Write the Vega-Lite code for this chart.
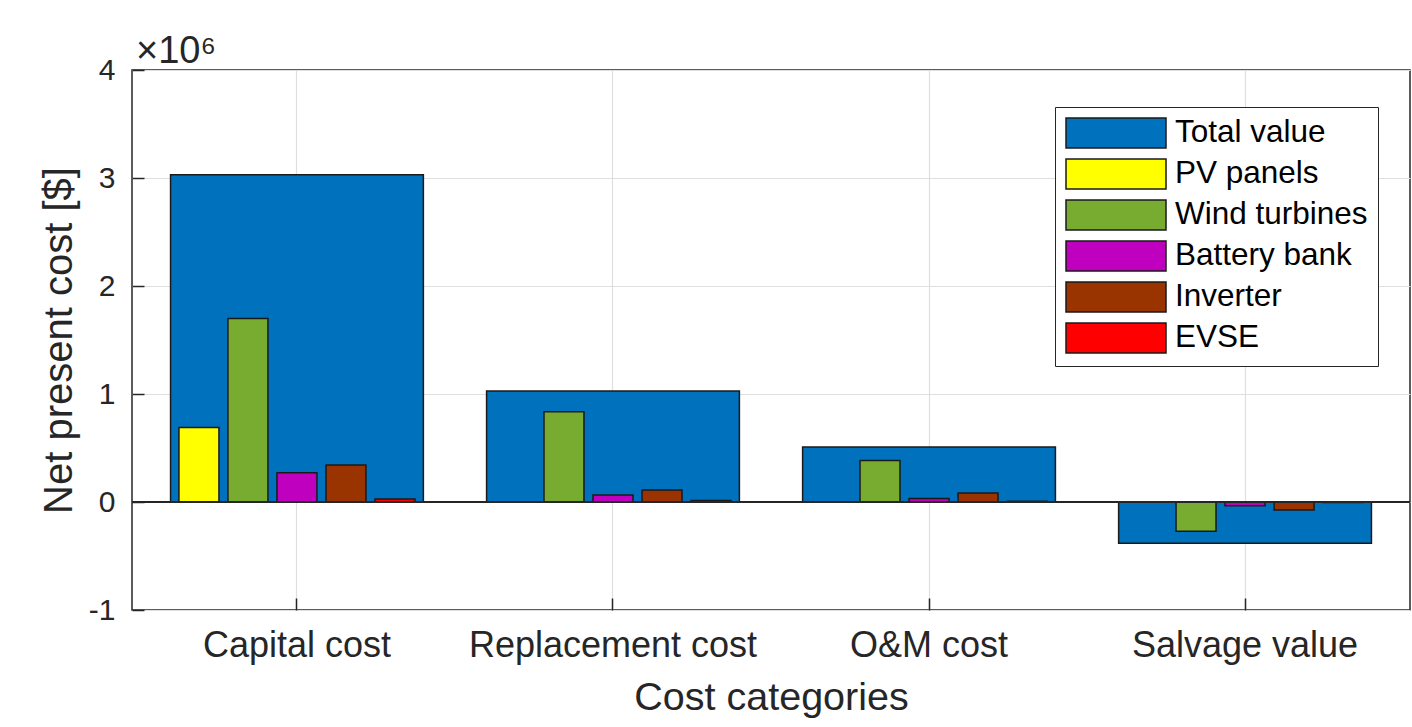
{
  "$schema": "https://vega.github.io/schema/vega-lite/v6.json",
  "autosize": "none",
  "width": 1278,
  "height": 540,
  "padding": {"left": 132, "top": 70, "right": 2, "bottom": 117},
  "background": "white",
  "title": {
    "text": "×10⁶",
    "anchor": "start",
    "frame": "group",
    "fontSize": 38,
    "fontWeight": "normal",
    "color": "#262626",
    "baseline": "alphabetic",
    "offset": 4,
    "dx": 4,
    "dy": 50
  },
  "data": {
    "values": [
      {"category": "Capital cost", "component": "Total value", "npc": 3.03},
      {"category": "Capital cost", "component": "PV panels", "npc": 0.69},
      {"category": "Capital cost", "component": "Wind turbines", "npc": 1.70},
      {"category": "Capital cost", "component": "Battery bank", "npc": 0.27},
      {"category": "Capital cost", "component": "Inverter", "npc": 0.343},
      {"category": "Capital cost", "component": "EVSE", "npc": 0.027},
      {"category": "Replacement cost", "component": "Total value", "npc": 1.027},
      {"category": "Replacement cost", "component": "PV panels", "npc": 0},
      {"category": "Replacement cost", "component": "Wind turbines", "npc": 0.836},
      {"category": "Replacement cost", "component": "Battery bank", "npc": 0.065},
      {"category": "Replacement cost", "component": "Inverter", "npc": 0.111},
      {"category": "Replacement cost", "component": "EVSE", "npc": 0.015},
      {"category": "O&M cost", "component": "Total value", "npc": 0.509},
      {"category": "O&M cost", "component": "PV panels", "npc": 0},
      {"category": "O&M cost", "component": "Wind turbines", "npc": 0.385},
      {"category": "O&M cost", "component": "Battery bank", "npc": 0.033},
      {"category": "O&M cost", "component": "Inverter", "npc": 0.083},
      {"category": "O&M cost", "component": "EVSE", "npc": 0.008},
      {"category": "Salvage value", "component": "Total value", "npc": -0.383},
      {"category": "Salvage value", "component": "PV panels", "npc": 0},
      {"category": "Salvage value", "component": "Wind turbines", "npc": -0.27},
      {"category": "Salvage value", "component": "Battery bank", "npc": -0.034},
      {"category": "Salvage value", "component": "Inverter", "npc": -0.074},
      {"category": "Salvage value", "component": "EVSE", "npc": -0.005}
    ]
  },
  "config": {
    "font": "Liberation Sans",
    "view": {"stroke": "#262626", "strokeWidth": 1.5},
    "axis": {
      "domain": false,
      "grid": true,
      "gridColor": "#DFDFDF",
      "gridWidth": 1.2,
      "tickColor": "#262626",
      "tickWidth": 1.5,
      "tickSize": -12,
      "labelLimit": 0,
      "labelColor": "#262626",
      "titleColor": "#262626",
      "titleFontWeight": "normal"
    }
  },
  "encoding": {
    "x": {
      "field": "category",
      "type": "nominal",
      "sort": ["Capital cost", "Replacement cost", "O&M cost", "Salvage value"],
      "scale": {"paddingInner": 0, "paddingOuter": 0.022},
      "axis": {
        "title": "Cost categories",
        "titleFontSize": 39.5,
        "titlePadding": 15,
        "labelFontSize": 36,
        "labelAngle": 0,
        "labelPadding": 30,
        "bandPosition": 0.5
      }
    },
    "y": {
      "field": "npc",
      "type": "quantitative",
      "scale": {"domain": [-1, 4], "nice": false},
      "axis": {
        "title": "Net present cost [$]",
        "titleFontSize": 40,
        "titlePadding": 9,
        "labelFontSize": 30,
        "labelPadding": 29,
        "values": [-1, 0, 1, 2, 3, 4],
        "labelExpr": "datum.value < 0 ? '-' + (-datum.value) : '' + datum.value"
      }
    },
    "color": {
      "field": "component",
      "type": "nominal",
      "scale": {
        "domain": ["Total value", "PV panels", "Wind turbines", "Battery bank", "Inverter", "EVSE"],
        "range": ["#0072BD", "#FFFF00", "#77AC30", "#BF00BF", "#993300", "#FF0000"]
      },
      "legend": {
        "title": null,
        "orient": "none",
        "legendX": 923,
        "legendY": 37,
        "symbolType": "M-1,-1H5.667V1H-1Z",
        "symbolSize": 900,
        "symbolStrokeColor": "#1a1a1a",
        "symbolStrokeWidth": 1.5,
        "symbolOpacity": 1,
        "labelFontSize": 31.5,
        "labelLimit": 0,
        "labelColor": "#000000",
        "labelOffset": 78,
        "rowPadding": 5,
        "padding": 10,
        "strokeColor": "#262626",
        "fillColor": "white"
      }
    }
  },
  "layer": [
    {
      "transform": [{"filter": "datum.component === 'Total value'"}],
      "mark": {"type": "bar", "width": {"band": 0.8}, "stroke": "#1a1a1a", "strokeWidth": 1.5, "opacity": 1}
    },
    {
      "transform": [{"filter": "datum.component !== 'Total value'"}],
      "mark": {"type": "bar", "stroke": "#1a1a1a", "strokeWidth": 1.5, "opacity": 1},
      "encoding": {
        "xOffset": {
          "field": "component",
          "type": "nominal",
          "scale": {
            "domain": ["PV panels", "Wind turbines", "Battery bank", "Inverter", "EVSE"],
            "paddingInner": 0.184,
            "paddingOuter": 0.816
          }
        }
      }
    },
    {
      "mark": {"type": "rule", "color": "#262626", "strokeWidth": 1.5},
      "encoding": {"x": null, "y": {"datum": 0}, "color": {"value": "#262626"}}
    }
  ]
}
